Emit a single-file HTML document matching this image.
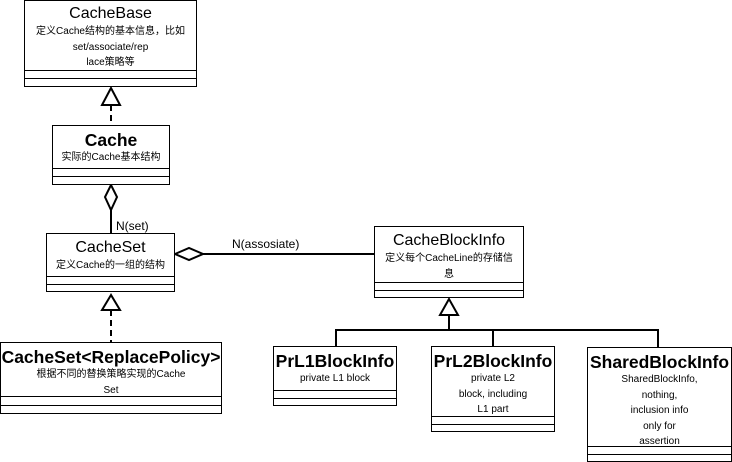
<!DOCTYPE html>
<html><head><meta charset="utf-8"><style>
body{margin:0;width:732px;height:462px;background:#fff;overflow:hidden;position:relative;font-family:"Liberation Sans","Noto Sans CJK SC",sans-serif;}
.b{position:absolute;border:1.5px solid #000;box-sizing:border-box;background:#fff;text-align:center;}
.t{font-size:16px;line-height:20px;margin-top:4px;}
.tb{font-weight:bold;font-size:17.5px;}
.d{font-size:10px;line-height:15.5px;}
.s{position:absolute;left:0;right:0;border-top:1.5px solid #000;}
</style></head><body>
<svg width="732" height="462" style="position:absolute;left:0;top:0">
<g stroke="#000" stroke-width="2" fill="#fff">
<line x1="111" y1="105" x2="111" y2="125" stroke-dasharray="6,4"/>
<polygon points="111,88 102,105 120,105"/>
<line x1="111" y1="210" x2="111" y2="233"/>
<polygon points="111,185 105,197 111,210 117,197"/>
<line x1="111" y1="310" x2="111" y2="342" stroke-dasharray="6,4"/>
<polygon points="111,295 102,310 120,310"/>
<line x1="203" y1="254" x2="374" y2="254"/>
<polygon points="175,254 189,248 203,254 189,260"/>
<polyline points="336,346 336,330 658,330 658,347" fill="none"/>
<line x1="493" y1="330" x2="493" y2="346"/>
<line x1="449" y1="315" x2="449" y2="330"/>
<polygon points="449,299 440,315 458,315"/>
</g>
<text x="116" y="230" font-size="12" font-family="Liberation Sans">N(set)</text>
<text x="232" y="248" font-size="12" font-family="Liberation Sans">N(assosiate)</text>
</svg>
<div class="b" style="left:24px;top:0;width:173px;height:87px"><div class="t" style="margin-top:3px">CacheBase</div><div class="d">定义Cache结构的基本信息，比如<br>set/associate/rep<br>lace策略等</div><div class="s" style="top:69px"></div><div class="s" style="top:77px"></div></div>
<div class="b" style="left:52px;top:125px;width:118px;height:60px"><div class="t tb">Cache</div><div class="d">实际的Cache基本结构</div><div class="s" style="top:42px"></div><div class="s" style="top:50px"></div></div>
<div class="b" style="left:46px;top:233px;width:129px;height:59px"><div class="t">CacheSet</div><div class="d">定义Cache的一组的结构</div><div class="s" style="top:42px"></div><div class="s" style="top:50px"></div></div>
<div class="b" style="left:374px;top:226px;width:150px;height:72px"><div class="t">CacheBlockInfo</div><div class="d">定义每个CacheLine的存储信<br>息</div><div class="s" style="top:55px"></div><div class="s" style="top:63px"></div></div>
<div class="b" style="left:0;top:342px;width:222px;height:72px"><div class="t tb">CacheSet&lt;ReplacePolicy&gt;</div><div class="d">根据不同的替换策略实现的Cache<br>Set</div><div class="s" style="top:53px"></div><div class="s" style="top:62px"></div></div>
<div class="b" style="left:273px;top:346px;width:124px;height:60px"><div class="t tb">PrL1BlockInfo</div><div class="d">private L1 block</div><div class="s" style="top:43px"></div><div class="s" style="top:51px"></div></div>
<div class="b" style="left:431px;top:346px;width:124px;height:86px"><div class="t tb">PrL2BlockInfo</div><div class="d">private L2<br>block, including<br>L1 part</div><div class="s" style="top:69px"></div><div class="s" style="top:77px"></div></div>
<div class="b" style="left:587px;top:347px;width:145px;height:115px"><div class="t tb">SharedBlockInfo</div><div class="d">SharedBlockInfo,<br>nothing,<br>inclusion info<br>only for<br>assertion</div><div class="s" style="top:98px"></div><div class="s" style="top:106px"></div></div>
</body></html>
